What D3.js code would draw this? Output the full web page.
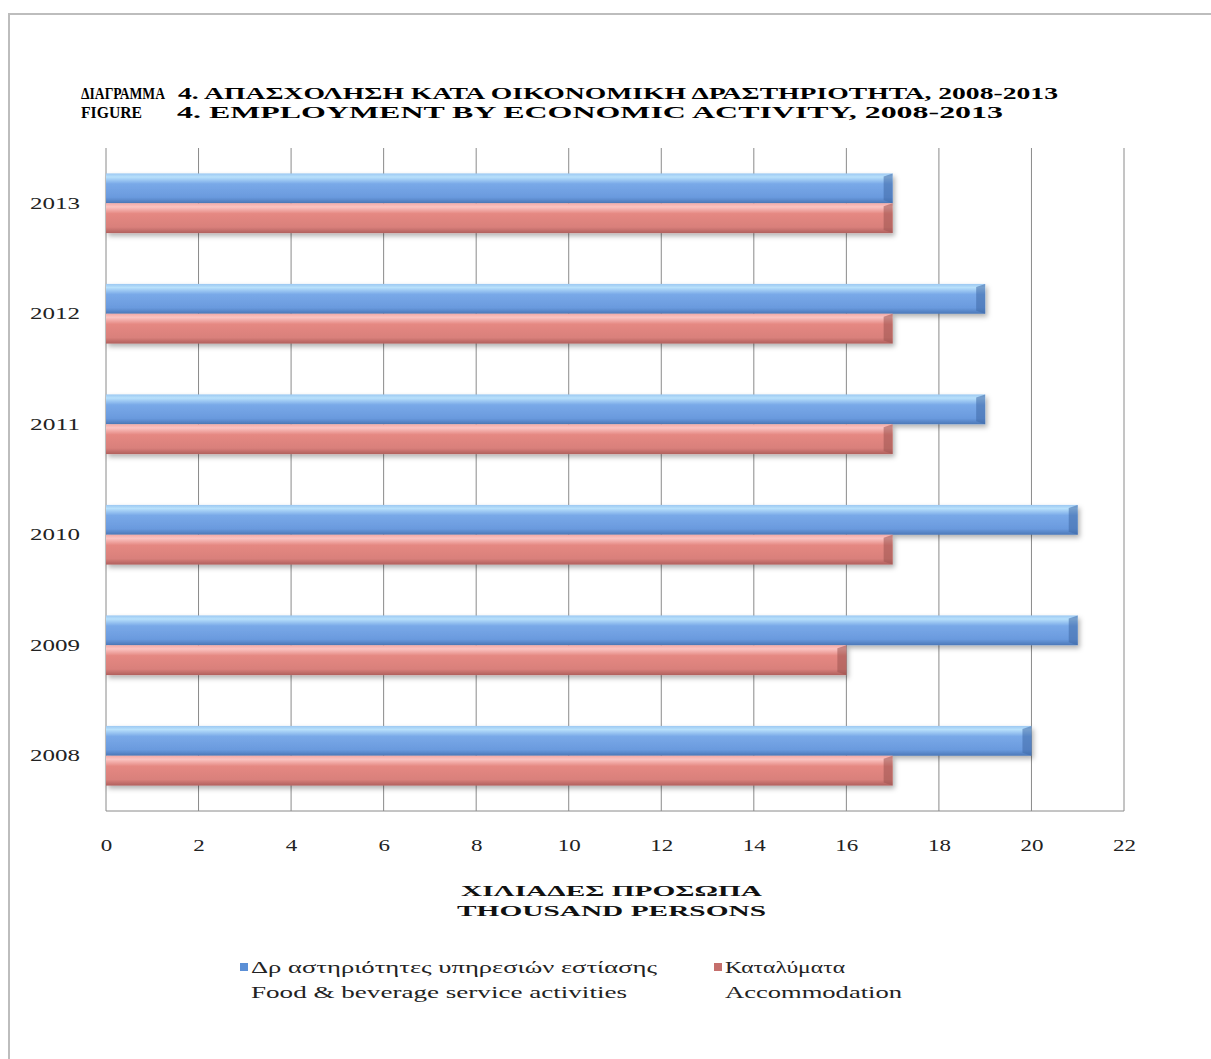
<!DOCTYPE html>
<html>
<head>
<meta charset="utf-8">
<script src="https://cdn.jsdelivr.net/npm/d3@7"></script>
<style>
  body { margin: 0; background: #fff; }
  svg { display: block; }
  text { font-family: "Liberation Serif", "DejaVu Serif", serif; }
</style>
</head>
<body>
<div id="chart"></div>
<script>
// data
const years = ["2013", "2012", "2011", "2010", "2009", "2008"];
const food = [17, 19, 19, 21, 21, 20];          // Food & beverage service activities
const accommodation = [17, 17, 17, 17, 16, 17]; // Accommodation
const xTicks = [0, 2, 4, 6, 8, 10, 12, 14, 16, 18, 20, 22];

const seriesNames = [
  ["Δρ αστηριότητες υπηρεσιών εστίασης", "Food & beverage service activities"],
  ["Καταλύματα", "Accommodation"]
];

const width = 1211, height = 1059;
const margin = { top: 148, left: 106, right: 1211 - 1124, bottom: 1059 - 811 };

const svg = d3.select("#chart").append("svg")
  .attr("width", width)
  .attr("height", height);

// outer frame
svg.append("rect")
  .attr("x", 9).attr("y", 14)
  .attr("width", 1230).attr("height", 1100)
  .attr("fill", "none")
  .attr("stroke", "#bdbdbd")
  .attr("stroke-width", 2);

// gradients
const defs = svg.append("defs");
function grad(id, stops) {
  const g = defs.append("linearGradient").attr("id", id)
    .attr("x1", 0).attr("y1", 0).attr("x2", 0).attr("y2", 1);
  stops.forEach(s => g.append("stop").attr("offset", s[0]).attr("stop-color", s[1]));
}
grad("gBlue", [[0, "#9cc8f2"], [0.12, "#b8e0fb"], [0.35, "#79a9e8"], [0.8, "#6a9ade"], [1, "#4b78b8"]]);
grad("gRed", [[0, "#f3a9a6"], [0.12, "#fbc4c2"], [0.35, "#e58882"], [0.8, "#d9807b"], [1, "#b0605d"]]);

const shadow = defs.append("filter").attr("id", "shadow")
  .attr("x", "-5%").attr("y", "-30%").attr("width", "110%").attr("height", "170%");
shadow.append("feDropShadow")
  .attr("dx", 2).attr("dy", 3).attr("stdDeviation", 2.5)
  .attr("flood-color", "#000").attr("flood-opacity", 0.3);

// stretched text helper, the picture's glyphs are wide
function wide(sel, x0, x1) {
  return sel.attr("x", x0).attr("textLength", x1 - x0).attr("lengthAdjust", "spacingAndGlyphs");
}

// titles
const title = svg.append("g").attr("font-weight", "bold").attr("font-size", 17).attr("fill", "#000");
wide(title.append("text").attr("y", 99), 81, 165).text("ΔΙΑΓΡΑΜΜΑ");
wide(title.append("text").attr("y", 99), 178, 1058)
  .text("4.  ΑΠΑΣΧΟΛΗΣΗ  ΚΑΤΑ ΟΙΚΟΝΟΜΙΚΗ ΔΡΑΣΤΗΡΙΟΤΗΤΑ, 2008-2013");
wide(title.append("text").attr("y", 118), 81, 142).text("FIGURE");
wide(title.append("text").attr("y", 118), 177, 1003)
  .text("4.  EMPLOYMENT BY ECONOMIC ACTIVITY, 2008-2013");

// scales
const x = d3.scaleLinear().domain([0, 22]).range([margin.left, width - margin.right]);
const y = d3.scaleBand().domain(years).range([margin.top, height - margin.bottom]).paddingInner(0.46).paddingOuter(0.23);
const sub = d3.scaleBand().domain([0, 1]).range([0, y.bandwidth()]);

// grid
svg.append("g")
  .selectAll("line")
  .data(xTicks)
  .join("line")
  .attr("x1", d => x(d)).attr("x2", d => x(d))
  .attr("y1", margin.top).attr("y2", height - margin.bottom)
  .attr("stroke", "#8a8a8a").attr("stroke-width", 1);

svg.append("line")
  .attr("x1", x(0)).attr("x2", x(22))
  .attr("y1", height - margin.bottom).attr("y2", height - margin.bottom)
  .attr("stroke", "#8a8a8a");

// x axis labels
const xAxis = svg.append("g")
  .attr("transform", `translate(0,${height - margin.bottom + 28})`)
  .call(d3.axisBottom(x).tickValues(xTicks).tickSize(0).tickPadding(0));
xAxis.select(".domain").remove();
xAxis.selectAll("text")
  .attr("font-family", "'Liberation Serif', serif")
  .attr("font-size", 17).attr("fill", "#222")
  .attr("textLength", d => String(d).length * 11.5)
  .attr("lengthAdjust", "spacingAndGlyphs");

// y axis labels
const yAxis = svg.append("g")
  .attr("transform", `translate(${margin.left - 26},0)`)
  .call(d3.axisLeft(y).tickSize(0).tickPadding(0));
yAxis.select(".domain").remove();
yAxis.selectAll("text")
  .attr("font-family", "'Liberation Serif', serif")
  .attr("font-size", 17).attr("fill", "#222")
  .attr("textLength", 50)
  .attr("lengthAdjust", "spacingAndGlyphs");

// bars
const series = [food, accommodation];
const fills = ["url(#gBlue)", "url(#gRed)"];
const edges = ["#3f69a8", "#9c5350"];

series.forEach((vals, si) => {
  const g = svg.append("g").attr("filter", "url(#shadow)");
  g.selectAll("rect")
    .data(vals)
    .join("rect")
    .attr("x", x(0))
    .attr("y", (d, i) => y(years[i]) + sub(si))
    .attr("width", d => x(d) - x(0))
    .attr("height", sub.bandwidth())
    .attr("fill", fills[si]);
  // bevel at the bar end
  g.selectAll("path")
    .data(vals)
    .join("path")
    .attr("d", (d, i) => {
      const x1 = x(d), y0 = y(years[i]) + sub(si), h = sub.bandwidth();
      return `M${x1 - 9},${y0 + 3}L${x1},${y0}L${x1},${y0 + h}L${x1 - 9},${y0 + h - 3}Z`;
    })
    .attr("fill", edges[si])
    .attr("opacity", 0.55);
});

// axis title
const at = svg.append("g").attr("font-weight", "bold").attr("font-size", 15).attr("fill", "#111");
wide(at.append("text").attr("y", 896), 461, 762).text("ΧΙΛΙΑΔΕΣ  ΠΡΟΣΩΠΑ");
wide(at.append("text").attr("y", 916), 457, 766).text("THOUSAND  PERSONS");

// legend
const legendX = [240, 714];
const legendEnd = [[657, 627], [845, 902]];
const legendColors = ["#5b8fd6", "#c56f6c"];
const lg = svg.append("g").attr("font-size", 17).attr("fill", "#222");
seriesNames.forEach((names, i) => {
  lg.append("rect")
    .attr("x", legendX[i]).attr("y", 963)
    .attr("width", 8).attr("height", 8)
    .attr("fill", legendColors[i]);
  wide(lg.append("text").attr("y", 973), legendX[i] + 11, legendEnd[i][0]).text(names[0]);
  wide(lg.append("text").attr("y", 998), legendX[i] + 11, legendEnd[i][1]).text(names[1]);
});
</script>
</body>
</html>
